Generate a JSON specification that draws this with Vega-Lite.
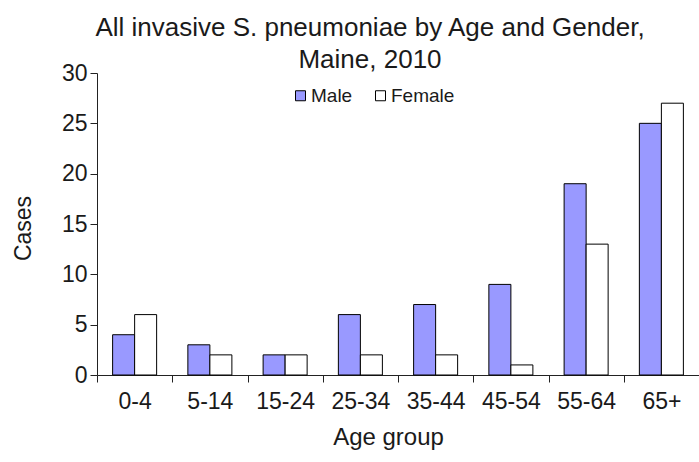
{
  "$schema": "https://vega.github.io/schema/vega-lite/v6.json",
  "autosize": "none",
  "width": 602,
  "height": 302,
  "padding": {"left": 97, "top": 73, "right": 0, "bottom": 87},
  "background": "white",
  "title": {
    "text": ["All invasive S. pneumoniae by Age and Gender,", "Maine, 2010"],
    "font": "Liberation Sans",
    "fontSize": 26,
    "fontWeight": "normal",
    "color": "#1a1a1a",
    "lineHeight": 32,
    "anchor": "middle",
    "frame": "group",
    "dx": -28,
    "offset": -11
  },
  "data": {
    "values": [
      {"age": "0-4", "gender": "Male", "cases": 4},
      {"age": "0-4", "gender": "Female", "cases": 6},
      {"age": "5-14", "gender": "Male", "cases": 3},
      {"age": "5-14", "gender": "Female", "cases": 2},
      {"age": "15-24", "gender": "Male", "cases": 2},
      {"age": "15-24", "gender": "Female", "cases": 2},
      {"age": "25-34", "gender": "Male", "cases": 6},
      {"age": "25-34", "gender": "Female", "cases": 2},
      {"age": "35-44", "gender": "Male", "cases": 7},
      {"age": "35-44", "gender": "Female", "cases": 2},
      {"age": "45-54", "gender": "Male", "cases": 9},
      {"age": "45-54", "gender": "Female", "cases": 1},
      {"age": "55-64", "gender": "Male", "cases": 19},
      {"age": "55-64", "gender": "Female", "cases": 13},
      {"age": "65+", "gender": "Male", "cases": 25},
      {"age": "65+", "gender": "Female", "cases": 27}
    ]
  },
  "mark": {"type": "bar", "stroke": "#000000", "strokeWidth": 1},
  "encoding": {
    "x": {
      "field": "age",
      "type": "nominal",
      "sort": ["0-4", "5-14", "15-24", "25-34", "35-44", "45-54", "55-64", "65+"],
      "scale": {"paddingInner": 0, "paddingOuter": 0},
      "axis": {
        "title": "Age group",
        "titleX": 291,
        "labelAngle": 0,
        "tickBand": "extent",
        "tickSize": 7,
        "labelPadding": 8,
        "titlePadding": 12,
        "labelFont": "Liberation Sans",
        "labelFontSize": 23,
        "labelColor": "#1a1a1a",
        "titleFont": "Liberation Sans",
        "titleFontSize": 24,
        "titleFontWeight": "normal",
        "titleColor": "#1a1a1a",
        "domainColor": "#222222",
        "tickColor": "#222222"
      }
    },
    "xOffset": {
      "field": "gender",
      "type": "nominal",
      "sort": ["Male", "Female"],
      "scale": {"paddingInner": 0, "paddingOuter": 0.71}
    },
    "y": {
      "field": "cases",
      "type": "quantitative",
      "scale": {"domain": [0, 30], "nice": false},
      "axis": {
        "title": "Cases",
        "titleY": 155,
        "values": [0, 5, 10, 15, 20, 25, 30],
        "grid": false,
        "tickSize": 7,
        "labelPadding": 3,
        "titlePadding": 26,
        "labelFont": "Liberation Sans",
        "labelFontSize": 23,
        "labelColor": "#1a1a1a",
        "titleFont": "Liberation Sans",
        "titleFontSize": 23,
        "titleFontWeight": "normal",
        "titleColor": "#1a1a1a",
        "domainColor": "#222222",
        "tickColor": "#222222"
      }
    },
    "color": {
      "field": "gender",
      "type": "nominal",
      "scale": {"domain": ["Male", "Female"], "range": ["#9999FF", "#FFFFFF"]},
      "legend": {
        "title": null,
        "orient": "none",
        "direction": "horizontal",
        "legendX": 194,
        "legendY": 13,
        "padding": 0,
        "symbolType": "square",
        "symbolSize": 100,
        "symbolStrokeColor": "#000000",
        "symbolStrokeWidth": 1,
        "symbolOpacity": 1,
        "labelFont": "Liberation Sans",
        "labelFontSize": 19,
        "labelColor": "#1a1a1a",
        "labelOffset": 1,
        "columnPadding": 18
      }
    }
  },
  "config": {"view": {"stroke": null}}
}
